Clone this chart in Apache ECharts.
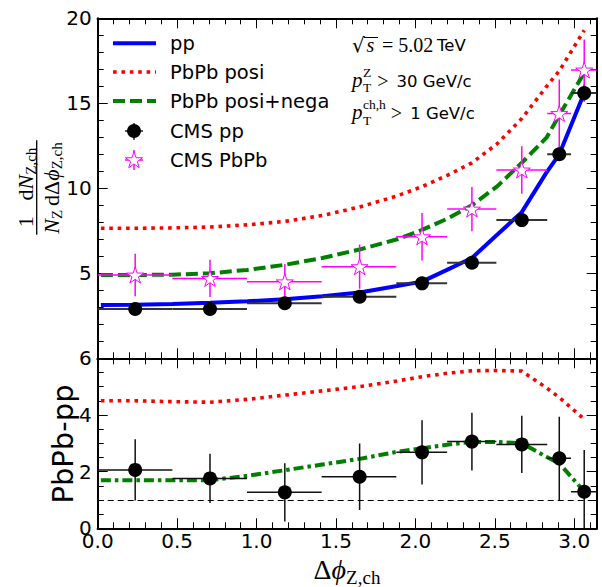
<!DOCTYPE html>
<html><head><meta charset="utf-8">
<script src="https://cdn.jsdelivr.net/npm/echarts@6/dist/echarts.min.js"></script>
<style>html,body{margin:0;padding:0;background:#fff}#c{width:602px;height:587px}</style>
</head><body><div id="c"></div>
<script>
// ---------------- data ----------------
const binLo = [0.00, 0.47, 0.94, 1.41, 1.88, 2.20, 2.51, 2.83, 2.98];
const binHi = [0.47, 0.94, 1.41, 1.88, 2.20, 2.51, 2.83, 2.98, 3.14];
const cmsX  = [0.236, 0.707, 1.178, 1.649, 2.042, 2.356, 2.670, 2.906, 3.063];
const cmsPpY   = [2.90, 2.90, 3.24, 3.62, 4.41, 5.62, 8.13, 12.0, 15.6];
const cmsPpErr = [0.12, 0.12, 0.13, 0.15, 0.18, 0.22, 0.30, 0.40, 0.50];
const cmsPbY   = [4.90, 4.70, 4.50, 5.39, 7.15, 8.78, 11.08, 14.4, 16.96];
const cmsPbErr = [1.25, 1.10, 1.05, 1.30, 1.40, 1.30, 1.40, 2.00, 1.80];
const diffY   = [2.06, 1.76, 1.27, 1.82, 2.68, 3.06, 2.96, 2.47, 1.29];
const diffErr = [1.08, 0.87, 1.03, 1.17, 1.13, 1.02, 1.01, 1.47, 1.47];
const theoryX      = [0.02, 0.236, 0.471, 0.707, 0.942, 1.178, 1.414, 1.649, 1.885, 2.042, 2.199, 2.356, 2.513, 2.670, 2.827, 2.906, 3.063];
const ppModel      = [3.13, 3.15, 3.20, 3.27, 3.35, 3.47, 3.65, 3.87, 4.25, 4.51, 5.20, 5.90, 7.25, 8.60, 10.95, 12.0, 15.6];
const posiModel    = [7.65, 7.65, 7.67, 7.72, 7.85, 8.05, 8.40, 8.90, 9.55, 10.1, 10.75, 11.5, 12.6, 14.1, 16.0, 16.9, 19.3];
const posiNegaModel= [4.90, 4.90, 4.92, 5.00, 5.20, 5.50, 5.90, 6.40, 7.00, 7.55, 8.20, 9.00, 10.1, 11.5, 13.0, 14.3, 16.8];
const posiDiff     = [4.50, 4.50, 4.47, 4.45, 4.55, 4.70, 4.85, 5.00, 5.20, 5.35, 5.47, 5.56, 5.57, 5.55, 4.95, 4.62, 3.85];
const posiNegaDiff = [1.70, 1.70, 1.70, 1.70, 1.85, 2.05, 2.25, 2.45, 2.70, 2.82, 2.95, 3.05, 3.05, 3.00, 2.52, 2.29, 1.30];
const refLevel = 1;
const xTickMajor = 0.5, xTickMinor = 0.1;
const legendNames = ['pp', 'PbPb posi', 'PbPb posi+nega', 'CMS pp', 'CMS PbPb'];

// ---------------- helpers ----------------
const SANS = "'DejaVu Sans', sans-serif";
const SERIF = "'Liberation Serif','DejaVu Serif',serif";
const mctx = document.createElement('canvas').getContext('2d');
function tw(t, size, fam, it){ mctx.font = (it?'italic ':'') + size + 'px ' + fam; return mctx.measureText(t).width; }
function pieces(list, x0, base){
  let x = x0; const out = []; let held = 0;
  for (const p of list){
    const fam = p.fam || SERIF;
    const xx = x + (p.dx || 0);
    const w = tw(p.t, p.size, fam, p.it);
    out.push({type:'text', x: xx, y: base + (p.dy || 0) - 0.3 * p.size, z: 100,
      style:{text:p.t, fontSize:p.size, fontFamily:fam, fontStyle:p.it?'italic':'normal', fill:'#000', align:'left', verticalAlign:'middle'}});
    if (p.stay) { held = Math.max(held, w); }
    else { x = xx + Math.max(w, held); held = 0; }
  }
  out.width = x - x0;
  return out;
}
const pts = (xs, ys) => xs.map((x, i) => [x, ys[i]]);
const errData = (ys, es) => cmsX.map((x, i) => [x, ys[i], binLo[i], binHi[i], es[i]]);
function errRender(color, width){
  return function(params, api){
    const x = api.value(0), y = api.value(1), xl = api.value(2), xh = api.value(3), e = api.value(4);
    const a = api.coord([xl, y]), b = api.coord([xh, y]), c = api.coord([x, y + e]), d = api.coord([x, y - e]);
    return {type:'group', children:[
      {type:'line', shape:{x1:a[0], y1:a[1], x2:b[0], y2:b[1]}, style:{stroke:color, lineWidth:width}},
      {type:'line', shape:{x1:c[0], y1:c[1], x2:d[0], y2:d[1]}, style:{stroke:color, lineWidth:width}}
    ]};
  };
}
const STAR = 'path://M0,-1L0.2245,-0.309L0.951,-0.309L0.363,0.118L0.588,0.809L0,0.382L-0.588,0.809L-0.363,0.118L-0.951,-0.309L-0.2245,-0.309Z';
function starPoints(cx, cy, r){
  const p = [[0,-1],[0.2245,-0.309],[0.951,-0.309],[0.363,0.118],[0.588,0.809],[0,0.382],[-0.588,0.809],[-0.363,0.118],[-0.951,-0.309],[-0.2245,-0.309]];
  return p.map(q => [cx + q[0]*r, cy + q[1]*r]);
}

// ---------------- axes ----------------
const AX = '#000';
function xAxesFor(g, labels){
  const base = {type:'value', gridIndex:g, min:0, max:Math.PI, splitLine:{show:false},
    axisLine:{show:true, onZero:false, lineStyle:{color:AX, width:2}}};
  const minor = {inside:true, length:6, lineStyle:{color:AX, width:1}};
  const major = {inside:true, length:10, lineStyle:{color:AX, width:1}};
  const lab = {show:labels, showMaxLabel:false, fontFamily:SANS, fontSize:20, color:'#000', margin:3, formatter:v => v.toFixed(1)};
  return [
    Object.assign({}, base, {position:'bottom', interval:xTickMinor, axisTick:minor, axisLabel:{show:false}}),
    Object.assign({}, base, {position:'bottom', interval:xTickMajor, axisTick:major, axisLabel:lab}),
    Object.assign({}, base, {position:'top', interval:xTickMinor, axisTick:minor, axisLabel:{show:false}}),
    Object.assign({}, base, {position:'top', interval:xTickMajor, axisTick:major, axisLabel:{show:false}})
  ];
}
function yAxesFor(g, max, interval, split, showMin){
  const base = {type:'value', gridIndex:g, min:0, max:max, interval:interval, splitLine:{show:false},
    axisLine:{show:true, onZero:false, lineStyle:{color:AX, width:2}},
    axisTick:{inside:true, length:10, lineStyle:{color:AX, width:1}},
    minorTick:{show:true, splitNumber:split, length:6, lineStyle:{color:AX, width:1}}};
  return [
    Object.assign({}, base, {position:'left', axisLabel:{show:true, showMinLabel:showMin, fontFamily:SANS, fontSize:20, color:'#000', margin:6}}),
    Object.assign({}, base, {position:'right', axisLabel:{show:false}})
  ];
}

// ---------------- graphics (legend, annotations, titles) ----------------
const g = [];
// legend
const lgY = [43.3, 72, 101, 131, 160];
g.push({type:'line', shape:{x1:113, y1:lgY[0], x2:156, y2:lgY[0]}, style:{stroke:'#0000ff', lineWidth:4}});
g.push({type:'line', shape:{x1:113, y1:lgY[1], x2:156, y2:lgY[1]}, style:{stroke:'#ff0000', lineWidth:3.6, lineDash:[3.6,4.8]}});
g.push({type:'line', shape:{x1:113, y1:lgY[2], x2:156, y2:lgY[2]}, style:{stroke:'#008000', lineWidth:4, lineDash:[12,5]}});
g.push({type:'line', shape:{x1:125, y1:lgY[3], x2:143, y2:lgY[3]}, style:{stroke:'#222', lineWidth:1.5}});
g.push({type:'line', shape:{x1:134, y1:lgY[3]-8, x2:134, y2:lgY[3]+9}, style:{stroke:'#222', lineWidth:1.5}});
g.push({type:'circle', shape:{cx:134, cy:lgY[3], r:7}, style:{fill:'#000'}});
g.push({type:'line', shape:{x1:125, y1:lgY[4], x2:143, y2:lgY[4]}, style:{stroke:'#ff00ff', lineWidth:1.5}});
g.push({type:'line', shape:{x1:134, y1:lgY[4]-10, x2:134, y2:lgY[4]+10}, style:{stroke:'#ff00ff', lineWidth:1.5}});
g.push({type:'polygon', shape:{points:starPoints(134, lgY[4]+0.5, 9)}, style:{fill:'#fff', stroke:'#ff00ff', lineWidth:1}});
legendNames.forEach((n, i) => g.push({type:'text', x:170, y:lgY[i], style:{text:n, fontSize:19.5, fontFamily:SANS, fill:'#000', align:'left', verticalAlign:'middle'}}));

// annotations
const ax0 = 352;
g.push({type:'text', x:ax0, y:50.7 - 0.3*20, style:{text:'\u221A', fontSize:20, fontFamily:SANS, fill:'#000', align:'left', verticalAlign:'middle'}});
g.push({type:'line', shape:{x1:364, y1:37.5, x2:378, y2:37.5}, style:{stroke:'#000', lineWidth:1}});
g.push(...pieces([{t:'s', size:20, it:true}], 366.5, 50.7));
g.push(...pieces([{t:'= 5.02', size:20}], 382, 50.7));
g.push(...pieces([{t:'TeV', size:16.5, fam:SANS}], 437, 50.7));
g.push(...pieces([{t:'p', size:21, it:true}, {t:'Z', size:13.5, dy:-10, stay:true, dx:0.5}, {t:'T', size:13.5, dy:5.5, dx:0.5},
  {t:'>', size:20, dx:6}, {t:'30 GeV/c', size:16.5, fam:SANS, dx:8}], ax0, 86.5));
g.push(...pieces([{t:'p', size:21, it:true}, {t:'ch,h', size:13.5, dy:-10, stay:true, dx:0.5}, {t:'T', size:13.5, dy:6, dx:0.5},
  {t:'>', size:20, dx:5}, {t:'1 GeV/c', size:16.5, fam:SANS, dx:8}], ax0, 118.5));

// y title (top): \frac{1}{N_Z}\frac{dN_{Z,ch}}{dΔϕ_{Z,ch}}
const FS = 22, SS = 15;
const den1 = [{t:'N', size:FS, it:true}, {t:'Z', size:SS, dy:4}];
const den2 = [{t:'d', size:FS}, {t:'\u0394', size:FS}, {t:'\u03D5', size:FS, it:true}, {t:'Z,ch', size:SS, dy:4}];
const num1 = [{t:'1', size:FS}];
const num2 = [{t:'d', size:FS}, {t:'N', size:FS, it:true}, {t:'Z,ch', size:SS, dy:4}];
const wd1 = pieces(den1, 0, 0).width, wd2 = pieces(den2, 0, 0).width;
const wn1 = pieces(num1, 0, 0).width, wn2 = pieces(num2, 0, 0).width;
const gap = 3;
const total = wd1 + gap + wd2 + 4;
const s0 = -total/2;
const yt = [];
yt.push({type:'line', shape:{x1:s0, y1:0, x2:s0 + wd1 + 2, y2:0}, style:{stroke:'#000', lineWidth:1.3}});
yt.push({type:'line', shape:{x1:s0 + wd1 + 2, y1:0, x2:-s0, y2:0}, style:{stroke:'#000', lineWidth:1.3}});
yt.push(...pieces(den1, s0 + 1, 21));
yt.push(...pieces(den2, s0 + wd1 + 2 + gap, 21));
yt.push(...pieces(num1, s0 + 1 + (wd1 - wn1)/2, -5));
yt.push(...pieces(num2, s0 + wd1 + 2 + gap + (wd2 - wn2)/2, -5));
g.push({type:'group', x:36.7, y:187.5, rotation:Math.PI/2, children:yt});

// y title (bottom)
g.push({type:'text', x:63, y:444, rotation:Math.PI/2, style:{text:'PbPb-pp', fontSize:29, fontFamily:SANS, fill:'#000', align:'center', verticalAlign:'middle'}});

// x title
const xtList = [{t:'\u0394', size:28}, {t:'\u03D5', size:28, it:true}, {t:'Z,ch', size:19, dy:5}];
const xtw = pieces(xtList, 0, 0).width;
g.push(...pieces(xtList, 347 - xtw/2, 578));

// ---------------- option ----------------
const option = {
  animation:false,
  backgroundColor:'#fff',
  grid:[
    {left:97.7, right:5.3, top:18.3, height:340},
    {left:97.7, right:5.3, top:358.3, height:170}
  ],
  xAxis:[...xAxesFor(0, false), ...xAxesFor(1, true)],
  yAxis:[...yAxesFor(0, 20, 5, 5, false), ...yAxesFor(1, 6, 2, 4, true)],
  series:[
    {name:'PbPb posi', type:'line', xAxisIndex:0, yAxisIndex:0, data:pts(theoryX, posiModel), symbol:'none', z:2,
      lineStyle:{color:'#ff0000', width:3.6, type:[3.6,4.8]}},
    {name:'PbPb posi+nega', type:'line', xAxisIndex:0, yAxisIndex:0, data:pts(theoryX, posiNegaModel), symbol:'none', z:2,
      lineStyle:{color:'#008000', width:4, type:[12,5]}},
    {name:'pp', type:'line', xAxisIndex:0, yAxisIndex:0, data:pts(theoryX, ppModel), symbol:'none', z:2,
      lineStyle:{color:'#0000ff', width:4}},
    {type:'custom', xAxisIndex:0, yAxisIndex:0, data:errData(cmsPpY, cmsPpErr), renderItem:errRender('#333', 2), z:3, clip:true, encode:{x:0, y:1}},
    {type:'custom', xAxisIndex:0, yAxisIndex:0, data:errData(cmsPbY, cmsPbErr), renderItem:errRender('#ff00ff', 1.5), z:3, clip:true, encode:{x:0, y:1}},
    {name:'CMS pp', type:'scatter', xAxisIndex:0, yAxisIndex:0, data:pts(cmsX, cmsPpY), symbol:'circle', symbolSize:14, z:4,
      itemStyle:{color:'#000', opacity:1}},
    {name:'CMS PbPb', type:'scatter', xAxisIndex:0, yAxisIndex:0, data:pts(cmsX, cmsPbY), symbol:STAR, symbolSize:17, symbolKeepAspect:true, z:5,
      itemStyle:{color:'#fff', borderColor:'#ff00ff', borderWidth:1, opacity:1}},

    {type:'line', xAxisIndex:4, yAxisIndex:2, data:pts(theoryX, posiDiff), symbol:'none', z:2,
      lineStyle:{color:'#ff0000', width:3.6, type:[3.6,4.8]},
      markLine:{silent:true, symbol:'none', label:{show:false}, data:[{yAxis:refLevel}], lineStyle:{color:'#000', width:1.2, type:[6,4]}, animation:false}},
    {type:'line', xAxisIndex:4, yAxisIndex:2, data:pts(theoryX, posiNegaDiff), symbol:'none', z:2,
      lineStyle:{color:'#008000', width:4, type:[10,4,3.5,4]}},
    {type:'custom', xAxisIndex:4, yAxisIndex:2, data:errData(diffY, diffErr), renderItem:errRender('#111', 1.5), z:3, clip:true, encode:{x:0, y:1}},
    {type:'scatter', xAxisIndex:4, yAxisIndex:2, data:pts(cmsX, diffY), symbol:'circle', symbolSize:14, z:4,
      itemStyle:{color:'#000', opacity:1}}
  ],
  graphic:g
};
const chart = echarts.init(document.getElementById('c'), null, {renderer:'svg', width:602, height:587});
chart.setOption(option);
</script>
</body></html>
